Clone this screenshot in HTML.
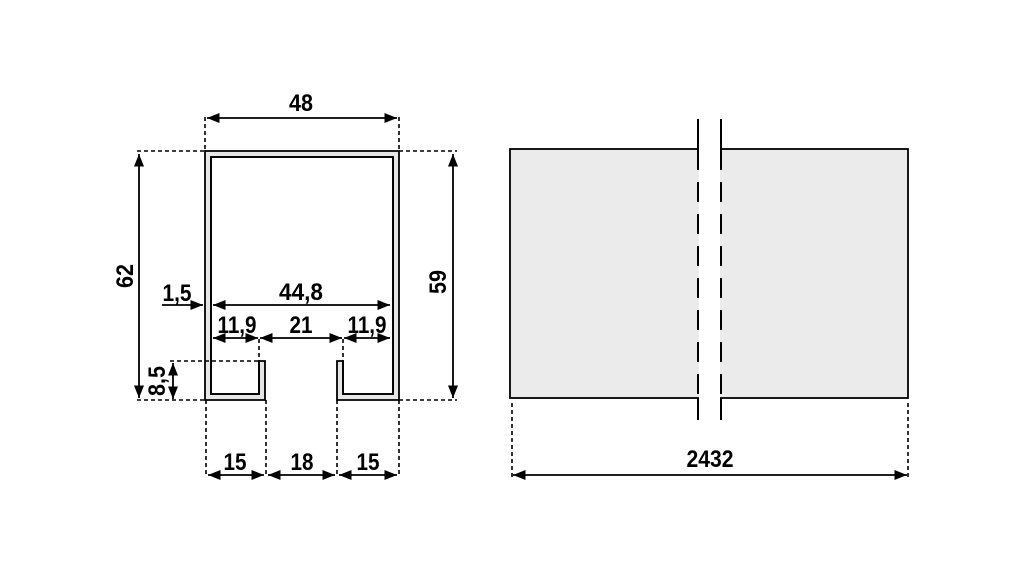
<!DOCTYPE html>
<html><head><style>
html,body{margin:0;padding:0;background:#fff;}
svg text{font-family:"Liberation Sans",sans-serif;font-weight:bold;font-size:24px;fill:#000;text-anchor:middle;}
</style></head><body>
<svg width="1021" height="567" viewBox="0 0 1021 567" xmlns="http://www.w3.org/2000/svg">
<defs>
<marker id="a" viewBox="0 0 10 10" refX="10" refY="5" markerWidth="7" markerHeight="7" orient="auto-start-reverse"><path d="M0,1 L10,5 L0,9 Z" fill="#000"/></marker>
</defs>
<rect width="1021" height="567" fill="#fff"/>
<!-- profile -->
<path d="M205,151 H399 V400 H337 V361 H343 V394 H393 V157 H211 V394 H259 V361 H265 V400 H205 Z" fill="#e6e6e6" stroke="#000" stroke-width="1.8"/>
<rect x="212" y="158" width="180" height="202" fill="#fff"/>
<path d="M343,361 V394 H393 V157 H211 V394 H259 V361" fill="none" stroke="#000" stroke-width="1.8"/>
<g stroke="#000" stroke-width="1.6" stroke-dasharray="4,3" fill="none">
<path d="M205,117 V151 M399,117 V151"/>
<path d="M137,151 H205 M137,400 H205"/>
<path d="M399,151 H457 M399,400 H457"/>
<path d="M259,339 V361 M343,339 V361"/>
<path d="M170,361 H259"/>
<path d="M206,400 V477 M266,400 V477 M337,400 V477 M399,400 V477"/>
<path d="M512,403 V477 M908,403 V477"/>
</g>
<g stroke="#000" stroke-width="1.8" fill="none">
<path d="M207,118 H397" marker-start="url(#a)" marker-end="url(#a)"/>
<path d="M139,154 V398" marker-start="url(#a)" marker-end="url(#a)"/>
<path d="M453,154 V398" marker-start="url(#a)" marker-end="url(#a)"/>
<path d="M162,305 H203" marker-end="url(#a)"/>
<path d="M213,305 H390" marker-start="url(#a)" marker-end="url(#a)"/>
<path d="M213,338 H258" marker-start="url(#a)" marker-end="url(#a)"/>
<path d="M260,338 H342" marker-start="url(#a)" marker-end="url(#a)"/>
<path d="M344,338 H390" marker-start="url(#a)" marker-end="url(#a)"/>
<path d="M173,363 V399" marker-start="url(#a)" marker-end="url(#a)"/>
<path d="M208,475 H264" marker-start="url(#a)" marker-end="url(#a)"/>
<path d="M268,475 H335" marker-start="url(#a)" marker-end="url(#a)"/>
<path d="M339,475 H397" marker-start="url(#a)" marker-end="url(#a)"/>
<path d="M513,475 H907" marker-start="url(#a)" marker-end="url(#a)"/>
</g>
<text x="301" y="111" textLength="24" lengthAdjust="spacingAndGlyphs">48</text>
<text transform="translate(133,276) rotate(-90)" textLength="24" lengthAdjust="spacingAndGlyphs">62</text>
<text transform="translate(446,282) rotate(-90)" textLength="24" lengthAdjust="spacingAndGlyphs">59</text>
<text x="177" y="301" textLength="29" lengthAdjust="spacingAndGlyphs">1,5</text>
<text x="301" y="300" textLength="44" lengthAdjust="spacingAndGlyphs">44,8</text>
<text x="237" y="333" textLength="39" lengthAdjust="spacingAndGlyphs">11,9</text>
<text x="301" y="333" textLength="23" lengthAdjust="spacingAndGlyphs">21</text>
<text x="367" y="333" textLength="39" lengthAdjust="spacingAndGlyphs">11,9</text>
<text transform="translate(165,381) rotate(-90)" textLength="30" lengthAdjust="spacingAndGlyphs">8,5</text>
<text x="235" y="470" textLength="23" lengthAdjust="spacingAndGlyphs">15</text>
<text x="302" y="470" textLength="23" lengthAdjust="spacingAndGlyphs">18</text>
<text x="368" y="470" textLength="23" lengthAdjust="spacingAndGlyphs">15</text>
<!-- right view -->
<rect x="510" y="149" width="398" height="249" fill="#ebebeb" stroke="#000" stroke-width="1.8"/>
<rect x="699" y="146" width="21" height="256" fill="#fff"/>
<g stroke="#000" stroke-width="2" fill="none">
<path d="M698,119 V150 M721,119 V150 M698,398 V420 M721,398 V420"/>
<path d="M698,150 V398 M721,150 V398" stroke-dasharray="20,12"/>
</g>
<text x="710" y="467" textLength="47" lengthAdjust="spacingAndGlyphs">2432</text>
</svg>
</body></html>
